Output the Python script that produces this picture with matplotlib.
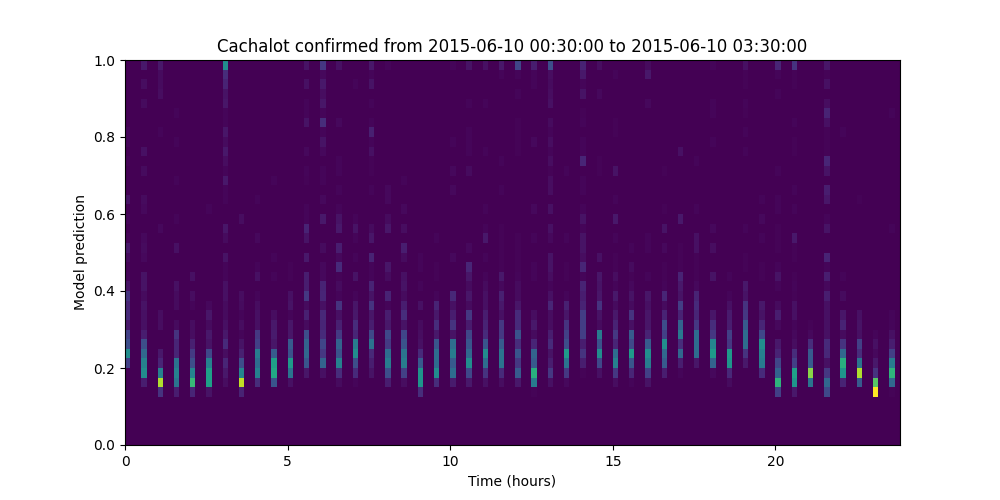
"""
Model prediction heatmap for one cachalot encounter
"""
import matplotlib
matplotlib.use("Agg")
import matplotlib.pyplot as plt
from matplotlib.colors import PowerNorm
import numpy as np

title = "Cachalot confirmed from 2015-06-10 00:30:00 to 2015-06-10 03:30:00"
n_time_bins = 143
n_pred_bins = 40
bins_per_slot = 3  # one 10 minute bin filled every half hour

# one line per half hour slot, prediction bins 5..16 (0.125 to 0.425), in levels of 0-100
low_band = [
    [0, 0, 0, 25, 55, 30, 25, 10, 17, 15, 20, 8],
    [0, 12, 55, 50, 40, 30, 12, 7, 7, 8, 5, 8],
    [20, 90, 50, 15, 10, 0, 0, 6, 6, 0, 0, 0],
    [12, 45, 50, 45, 15, 15, 20, 5, 0, 5, 5, 7],
    [15, 72, 52, 30, 23, 13, 6, 6, 0, 3, 6, 0],
    [8, 62, 62, 50, 28, 8, 10, 5, 9, 4, 0, 0],
    [0, 6, 10, 15, 6, 17, 10, 7, 5, 5, 7, 7],
    [14, 92, 52, 30, 13, 8, 3, 6, 3, 5, 6, 0],
    [0, 18, 50, 42, 48, 25, 22, 7, 7, 6, 3, 0],
    [0, 33, 65, 62, 35, 9, 11, 10, 6, 0, 0, 0],
    [0, 7, 45, 60, 32, 35, 9, 9, 3, 8, 7, 0],
    [0, 0, 9, 33, 40, 38, 30, 5, 13, 5, 22, 12],
    [0, 0, 7, 38, 22, 27, 17, 15, 16, 7, 15, 14],
    [0, 5, 18, 50, 32, 38, 23, 13, 7, 20, 3, 5],
    [0, 3, 17, 30, 55, 48, 15, 18, 10, 9, 3, 0],
    [0, 0, 8, 12, 16, 44, 28, 12, 9, 20, 8, 14],
    [0, 12, 30, 48, 42, 23, 28, 10, 12, 3, 14, 0],
    [0, 6, 25, 48, 45, 32, 27, 8, 18, 12, 5, 8],
    [18, 58, 58, 35, 17, 7, 6, 5, 0, 7, 0, 3],
    [0, 18, 55, 42, 42, 33, 10, 18, 10, 14, 3, 0],
    [0, 11, 42, 35, 48, 43, 8, 20, 12, 7, 16, 0],
    [0, 10, 28, 55, 40, 33, 27, 11, 22, 5, 9, 5],
    [0, 7, 20, 42, 55, 33, 17, 14, 12, 7, 7, 5],
    [0, 6, 17, 45, 45, 35, 22, 22, 7, 10, 13, 4],
    [0, 10, 35, 22, 33, 18, 32, 17, 17, 9, 5, 5],
    [2, 48, 68, 35, 38, 15, 5, 10, 6, 0, 0, 0],
    [0, 7, 22, 12, 8, 17, 12, 6, 6, 15, 7, 3],
    [0, 4, 22, 45, 60, 30, 25, 20, 9, 13, 3, 0],
    [0, 0, 2, 12, 20, 12, 24, 24, 24, 14, 12, 14],
    [0, 0, 7, 28, 55, 32, 48, 5, 8, 20, 9, 8],
    [0, 6, 22, 50, 42, 15, 22, 14, 10, 5, 10, 3],
    [0, 3, 15, 33, 60, 28, 35, 7, 20, 5, 8, 4],
    [0, 8, 25, 48, 55, 35, 14, 9, 9, 7, 9, 0],
    [0, 0, 12, 35, 40, 55, 25, 30, 14, 5, 15, 3],
    [0, 0, 3, 12, 40, 18, 47, 38, 14, 24, 8, 10],
    [0, 0, 0, 9, 42, 42, 42, 22, 15, 17, 14, 4],
    [0, 0, 4, 38, 60, 52, 22, 18, 9, 0, 0, 0],
    [0, 5, 16, 58, 60, 22, 25, 12, 11, 7, 3, 0],
    [0, 0, 0, 10, 20, 42, 42, 35, 22, 20, 8, 10],
    [0, 0, 17, 48, 50, 55, 28, 15, 8, 10, 0, 0],
    [25, 70, 38, 27, 14, 10, 0, 4, 12, 5, 0, 3],
    [10, 58, 62, 25, 18, 6, 4, 3, 7, 7, 2, 3],
    [0, 45, 85, 35, 35, 18, 4, 2, 0, 0, 0, 0],
    [28, 40, 22, 7, 16, 17, 7, 7, 7, 7, 12, 4],
    [0, 14, 58, 68, 40, 20, 5, 14, 9, 0, 5, 0],
    [0, 35, 90, 45, 18, 25, 7, 8, 7, 0, 0, 0],
    [100, 78, 20, 10, 4, 7, 3, 0, 0, 0, 0, 0],
    [2, 40, 70, 48, 25, 12, 7, 3, 3, 0, 0, 0],
]

# faint cells above that band: {prediction bin: level} for each slot
high_band = [
    {32: 3, 31: 3, 29: 2, 25: 8, 23: 3, 21: 2, 20: 10, 19: 5, 18: 2, 17: 3},
    {39: 10, 37: 6, 35: 5, 30: 7, 28: 5, 25: 5, 24: 4, 21: 4, 20: 5, 19: 4, 17: 8},
    {39: 10, 38: 5, 37: 5, 36: 6, 32: 3, 22: 4},
    {34: 3, 31: 3, 27: 3, 23: 3, 20: 7},
    {17: 7},
    {24: 3},
    {39: 55, 38: 18, 37: 14, 36: 8, 35: 9, 34: 3, 33: 3, 32: 9, 31: 5, 30: 10, 29: 6,
     28: 3, 27: 10, 26: 3, 25: 3, 22: 9, 21: 5, 19: 8, 18: 3, 17: 3},
    {23: 6},
    {25: 3, 21: 4, 18: 3, 17: 7},
    {27: 3, 19: 3, 17: 3},
    {18: 2, 17: 2},
    {39: 8, 37: 7, 35: 3, 34: 3, 33: 8, 30: 4, 28: 3, 27: 2, 24: 3, 23: 3, 22: 14,
     21: 8, 19: 10, 17: 12},
    {39: 22, 38: 4, 37: 10, 36: 6, 35: 9, 34: 3, 33: 18, 32: 3, 31: 8, 30: 4, 28: 3,
     27: 3, 25: 4, 23: 10, 20: 5, 18: 4, 17: 4},
    {39: 7, 33: 4, 29: 3, 28: 3, 26: 3, 24: 3, 23: 8, 22: 10, 20: 12, 19: 4, 18: 17, 17: 2},
    {37: 3, 23: 3, 22: 8, 21: 3, 19: 3, 17: 8},
    {39: 10, 38: 3, 37: 8, 35: 3, 33: 3, 32: 13, 31: 3, 30: 7, 29: 2, 28: 2, 26: 3,
     22: 5, 21: 9, 19: 14, 18: 3, 17: 3},
    {39: 3, 26: 4, 25: 4, 23: 5, 22: 9, 18: 9, 17: 5},
    {27: 3, 24: 4, 22: 6, 20: 12, 19: 5, 17: 7},
    {19: 3, 18: 3},
    {21: 3, 18: 2, 17: 2},
    {39: 3, 31: 3, 28: 4, 26: 4, 19: 4},
    {39: 8, 35: 3, 32: 3, 31: 3, 30: 3, 28: 5, 20: 4, 18: 15, 17: 9},
    {39: 7, 35: 3, 30: 3, 24: 3, 22: 3, 21: 10, 19: 3, 17: 3},
    {39: 10, 38: 3, 29: 3, 26: 3, 22: 2, 21: 2, 20: 2, 19: 2, 18: 2, 17: 10},
    {39: 27, 38: 3, 36: 3, 33: 2, 32: 2, 31: 2, 30: 2, 21: 2, 20: 2, 19: 2, 18: 2, 17: 3},
    {39: 12, 38: 3, 37: 3, 31: 4, 24: 4, 21: 3, 18: 3, 17: 3},
    {39: 30, 38: 6, 37: 5, 36: 6, 35: 7, 33: 5, 32: 3, 31: 6, 30: 3, 29: 6, 28: 2,
     27: 6, 26: 6, 24: 7, 22: 7, 21: 4, 19: 8, 18: 8, 17: 6},
    {28: 3, 21: 3, 18: 2, 17: 2},
    {39: 14, 38: 10, 37: 3, 36: 8, 34: 2, 33: 3, 31: 3, 30: 3, 29: 15, 27: 3, 26: 3,
     24: 3, 23: 8, 22: 3, 21: 8, 20: 8, 19: 6, 18: 15, 17: 3},
    {39: 6, 36: 4, 29: 2, 28: 2, 19: 7, 17: 9},
    {38: 3, 33: 2, 32: 2, 28: 8, 25: 3, 23: 10, 21: 3, 19: 2, 18: 2, 17: 6},
    {20: 3, 18: 5, 17: 2},
    {39: 5, 38: 10, 35: 4, 21: 3, 20: 3, 17: 3},
    {28: 2, 24: 2, 22: 8, 20: 4, 18: 2, 17: 2},
    {30: 7, 23: 10, 20: 2, 19: 2, 18: 2, 17: 14},
    {29: 3, 24: 3, 21: 7, 20: 7, 19: 2, 18: 2, 17: 2},
    {39: 3, 35: 3, 34: 3, 31: 3, 22: 4, 20: 6, 17: 8},
    {17: 3},
    {39: 7, 38: 2, 37: 2, 35: 3, 34: 2, 32: 3, 30: 3, 22: 3, 19: 2, 18: 2},
    {25: 3, 23: 4, 21: 3, 18: 2, 17: 2},
    {39: 15, 38: 3, 36: 3, 28: 3, 25: 3, 24: 3, 22: 2, 21: 2, 20: 2, 18: 3, 17: 8},
    {39: 20, 38: 2, 37: 2, 33: 3, 31: 2, 30: 2, 26: 3, 24: 3, 21: 10, 20: 2, 19: 2, 17: 2},
    {},
    {39: 9, 38: 2, 37: 7, 35: 6, 34: 14, 33: 7, 32: 2, 31: 2, 30: 2, 29: 15, 28: 8,
     26: 12, 25: 9, 23: 3, 22: 8, 19: 14, 18: 3, 17: 12},
    {32: 3, 17: 3},
    {25: 2},
    {},
    {34: 3, 22: 3},
]

counts = np.zeros((n_pred_bins, n_time_bins))
for slot, (low, high) in enumerate(zip(low_band, high_band)):
    col = slot * bins_per_slot
    counts[5:17, col] = low
    for pred_bin, level in high.items():
        counts[pred_bin, col] = level

time_edges = np.arange(n_time_bins + 1) / 6
pred_edges = np.linspace(0, 1, n_pred_bins + 1)

fig, ax = plt.subplots(figsize=(10, 5))
# gamma pulls the faint cells back down a bit
ax.pcolormesh(time_edges, pred_edges, counts, cmap="viridis",
              norm=PowerNorm(gamma=1.2, vmin=0, vmax=100))
ax.set_xlim(0, n_time_bins / 6)
ax.set_ylim(0, 1)
ax.set_xlabel("Time (hours)")
ax.set_ylabel("Model prediction")
ax.set_title(title)
fig.savefig("out.png", dpi=100)
